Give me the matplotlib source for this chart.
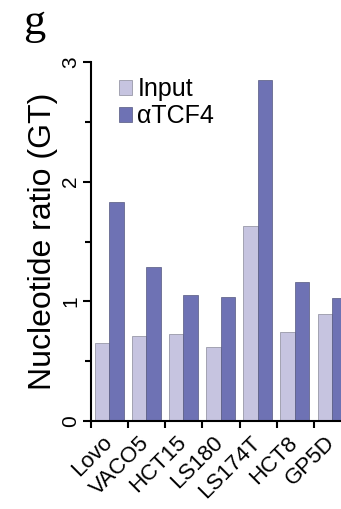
import numpy as np
import matplotlib
matplotlib.use("Agg")
import matplotlib.pyplot as plt
from matplotlib.ticker import FixedLocator, NullFormatter

# Values
cell_lines = ["Lovo", "VACO5", "HCT15", "LS180", "LS174T", "HCT8", "GP5D"]
input_ratio = [0.65, 0.71, 0.73, 0.62, 1.63, 0.74, 0.89]
tcf4_ratio = [1.83, 1.29, 1.05, 1.04, 2.85, 1.16, 1.03]

plt.rcParams["font.family"] = ["Liberation Sans", "DejaVu Sans"]

fig = plt.figure(figsize=(3.41, 5.09), dpi=100)
ax = fig.add_axes([91 / 341, 88 / 509, 250 / 341, 359 / 509])

x = np.arange(len(cell_lines))
w = 0.39
ax.bar(x - w / 2 - 0.01, input_ratio, w, color="#c6c4e0", edgecolor="#8a8a9a",
       linewidth=0.5, label="Input")
ax.bar(x + w / 2 - 0.01, tcf4_ratio, w, color="#6e72b4", edgecolor="#55587f",
       linewidth=0.5, label="\u03b1TCF4")

ax.set_xlim(-0.5, 6.23)
ax.set_ylim(0, 3)

for s in ["top", "right"]:
    ax.spines[s].set_visible(False)
ax.spines["left"].set_linewidth(1.5)
ax.spines["bottom"].set_linewidth(1.5)

# y axis: labelled ticks plus small ticks in between
ax.set_yticks([0, 1, 2, 3])
ax.set_yticklabels(["0", "1", "2", "3"], rotation=90, va="center", fontsize=15)
ax.yaxis.set_minor_locator(FixedLocator([0.5, 1.5, 2.5]))
ax.tick_params(axis="y", which="major", length=6, width=1.5, pad=2)
ax.tick_params(axis="y", which="minor", length=4, width=1.5)

# x axis: ticks between groups, names under group centres
ax.xaxis.set_major_locator(FixedLocator(np.arange(-0.5, 6.5, 1.0)))
ax.xaxis.set_major_formatter(NullFormatter())
ax.xaxis.set_minor_locator(FixedLocator(x - 0.22))
ax.set_xticklabels(cell_lines, minor=True, rotation=45, ha="right",
                   rotation_mode="anchor", fontsize=16)
ax.tick_params(axis="x", which="major", length=5, width=1.5)
ax.tick_params(axis="x", which="minor", length=0, pad=8)

ax.set_ylabel("Nucleotide ratio (GT)", fontsize=23, labelpad=2)

ax.legend(loc="upper left", bbox_to_anchor=(0.07, 0.985), frameon=False,
          fontsize=18, handlelength=0.55, handleheight=0.55, handletextpad=0.2,
          labelspacing=0.1, borderaxespad=0)

# panel letter
fig.text(34 / 341, 1 - 34 / 509, "g", ha="center", va="baseline",
         fontsize=32, family="Liberation Serif")

fig.savefig("out.png", dpi=100)
